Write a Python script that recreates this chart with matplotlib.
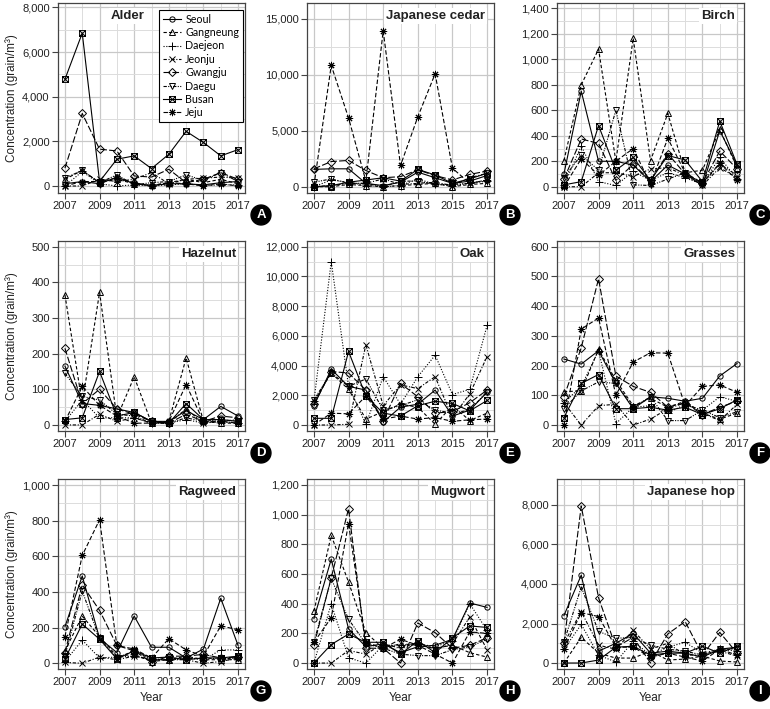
import numpy as np
import matplotlib.pyplot as plt
from matplotlib.path import Path
from matplotlib.ticker import MultipleLocator, FixedLocator, FuncFormatter

plt.rcParams['font.family'] = ['Liberation Sans', 'DejaVu Sans']

years = list(range(2007, 2018))
cities = ['Seoul', 'Gangneung', 'Daejeon', 'Jeonju', 'Gwangju', 'Daegu', 'Busan', 'Jeju']

# rows follow the order of cities
alder = [
    [100, 200, 100, 400, 100, 20, 100, 100, 50, 150, 200],
    [300, 700, 150, 300, 100, 30, 150, 300, 150, 300, 100],
    [0, 650, 100, 0, 50, 0, 50, 100, 30, 50, 50],
    [0, 0, 300, 200, 300, 600, 100, 300, 350, 400, 350],
    [800, 3250, 1650, 1570, 450, 400, 750, 150, 300, 600, 300],
    [350, 700, 150, 500, 50, 150, 200, 500, 250, 600, 200],
    [4780, 6850, 200, 1200, 1350, 780, 1420, 2450, 1950, 1350, 1630],
    [0, 200, 200, 350, 150, 0, 150, 100, 0, 100, 0],
]
cedar = [
    [1550, 1600, 1600, 300, 100, 400, 1300, 800, 300, 500, 1000],
    [0, 0, 200, 100, 0, 100, 200, 300, 0, 200, 300],
    [0, 600, 400, 100, 0, 100, 700, 200, 100, 300, 500],
    [0, 100, 300, 300, 700, 200, 300, 400, 100, 800, 1200],
    [1600, 2250, 2350, 1450, 800, 900, 1500, 1000, 600, 1100, 1400],
    [400, 700, 300, 300, 0, 500, 500, 200, 200, 300, 600],
    [0, 100, 400, 600, 800, 500, 1550, 1050, 300, 700, 1200],
    [100, 10850, 6150, 500, 13950, 1900, 6250, 10100, 1650, 300, 600],
]
birch = [
    [100, 750, 200, 200, 170, 40, 170, 100, 10, 440, 170],
    [205, 800, 1080, 200, 1165, 205, 575, 110, 130, 450, 150],
    [10, 320, 40, 10, 120, 50, 110, 70, 20, 230, 60],
    [0, 0, 110, 110, 80, 140, 150, 90, 10, 150, 70],
    [60, 375, 340, 50, 175, 50, 260, 100, 30, 280, 140],
    [70, 250, 130, 600, 15, 10, 60, 110, 20, 180, 90],
    [15, 40, 480, 130, 230, 50, 245, 210, 40, 515, 175],
    [0, 220, 90, 200, 300, 20, 380, 110, 30, 185, 50],
]
hazelnut = [
    [165, 60, 55, 45, 35, 10, 10, 40, 15, 52, 25],
    [365, 60, 372, 20, 135, 5, 10, 188, 10, 5, 5],
    [10, 70, 20, 20, 20, 5, 5, 15, 5, 10, 5],
    [0, 0, 30, 10, 20, 5, 5, 45, 5, 10, 15],
    [215, 60, 100, 45, 30, 10, 5, 30, 10, 25, 20],
    [145, 80, 70, 30, 25, 5, 5, 20, 10, 15, 10],
    [15, 20, 150, 25, 35, 10, 5, 60, 15, 15, 10],
    [10, 108, 55, 25, 5, 5, 10, 113, 10, 10, 5],
]
oak = [
    [1300, 3750, 2600, 2350, 200, 1200, 1400, 2350, 600, 1000, 2200],
    [1600, 3500, 2400, 400, 900, 1400, 1200, 50, 1300, 300, 800],
    [1600, 11000, 2600, 50, 3250, 1400, 3250, 4700, 2050, 2400, 6700],
    [0, 0, 50, 5400, 1300, 2700, 2450, 3250, 500, 2100, 4600],
    [1400, 3600, 3500, 2350, 300, 2800, 1900, 800, 900, 1500, 2350],
    [1700, 3500, 2600, 3100, 1000, 1300, 1700, 1000, 800, 1000, 2250],
    [450, 450, 4950, 1950, 800, 600, 1300, 1600, 1450, 950, 1650],
    [0, 800, 750, 1950, 400, 600, 400, 500, 250, 350, 400],
]
grasses = [
    [222, 205, 250, 140, 55, 95, 90, 80, 90, 165, 207],
    [112, 115, 255, 150, 65, 90, 60, 80, 40, 20, 40],
    [75, 130, 250, 5, 60, 65, 40, 70, 50, 95, 80],
    [75, 0, 65, 70, 0, 20, 55, 75, 40, 15, 70],
    [95, 260, 492, 165, 130, 110, 60, 75, 35, 60, 80],
    [55, 115, 145, 140, 60, 95, 15, 15, 50, 25, 45],
    [25, 140, 170, 55, 55, 60, 50, 60, 35, 55, 85],
    [0, 323, 360, 100, 212, 243, 242, 65, 130, 135, 110],
]
ragweed = [
    [205, 490, 140, 60, 265, 90, 90, 30, 80, 365, 100],
    [70, 265, 150, 40, 50, 10, 20, 40, 20, 20, 20],
    [10, 130, 30, 35, 40, 25, 20, 30, 20, 75, 75],
    [5, 0, 35, 20, 40, 20, 20, 20, 0, 10, 30],
    [60, 440, 297, 100, 70, 5, 40, 40, 50, 30, 35],
    [40, 405, 140, 30, 70, 20, 20, 25, 30, 25, 30],
    [25, 220, 135, 25, 70, 30, 35, 20, 30, 30, 40],
    [150, 605, 805, 100, 80, 30, 138, 75, 40, 210, 188],
]
mugwort = [
    [300, 700, 230, 110, 130, 70, 110, 120, 160, 405, 375],
    [350, 860, 545, 205, 100, 130, 120, 100, 120, 70, 40],
    [0, 400, 35, 0, 120, 120, 130, 110, 150, 400, 220],
    [0, 0, 85, 60, 130, 100, 140, 90, 130, 310, 90],
    [120, 575, 1040, 100, 100, 0, 270, 205, 100, 120, 170],
    [140, 570, 295, 130, 100, 60, 50, 50, 90, 110, 160],
    [0, 125, 195, 140, 140, 60, 150, 70, 170, 250, 240],
    [140, 305, 940, 140, 100, 160, 120, 60, 0, 210, 200],
]
hop = [
    [2400, 4450, 600, 1000, 1500, 500, 600, 500, 300, 700, 800],
    [0, 1300, 500, 250, 250, 600, 150, 200, 350, 100, 50],
    [700, 1950, 400, 50, 1100, 400, 800, 1050, 500, 700, 600],
    [1000, 2600, 900, 700, 1650, 700, 1000, 400, 400, 600, 350],
    [1000, 7950, 3300, 800, 1300, 0, 1470, 2100, 400, 1550, 500],
    [1050, 3850, 1600, 1250, 1300, 900, 700, 600, 400, 700, 700],
    [0, 0, 150, 800, 850, 400, 500, 500, 850, 500, 850],
    [700, 2550, 2350, 800, 800, 300, 500, 300, 100, 700, 400],
]

titles = ['Alder', 'Japanese cedar', 'Birch', 'Hazelnut', 'Oak', 'Grasses',
          'Ragweed', 'Mugwort', 'Japanese hop']
letters = list('ABCDEFGHI')
datasets = [alder, cedar, birch, hazelnut, oak, grasses, ragweed, mugwort, hop]
tick_steps = [2000, 5000, 200, 100, 2000, 100, 200, 200, 2000]
ylims = [(-314, 8200), (-563, 16430), (-49, 1442), (-17, 516), (-404, 12384),
         (-20, 619), (-32, 1034), (-40, 1240), (-303, 9314)]

# square with a cross inside (like R pch 7)
box_x = Path([(-1, -1), (1, -1), (1, 1), (-1, 1), (-1, -1), (-1, -1), (1, 1), (-1, 1), (1, -1)],
             [Path.MOVETO, Path.LINETO, Path.LINETO, Path.LINETO, Path.CLOSEPOLY,
              Path.MOVETO, Path.LINETO, Path.MOVETO, Path.LINETO])

styles = [
    dict(ls='-', marker='o', ms=3.8),
    dict(ls=(0, (3, 2)), marker='^', ms=4.4),
    dict(ls=(0, (1, 1.5)), marker='+', ms=5.2),
    dict(ls=(0, (3, 1.5, 1, 1.5)), marker='x', ms=4.2),
    dict(ls=(0, (6, 2)), marker='D', ms=3.8),
    dict(ls=(0, (3, 1.2, 1, 1.2, 1, 1.2)), marker='v', ms=4.4),
    dict(ls='-', marker=box_x, ms=4.2),
    dict(ls=(0, (4, 2)), marker=(8, 2, 0), ms=5.2),
]

W, H = 770, 709
fig = plt.figure(figsize=(W / 100, H / 100), dpi=100)
col_left = [58, 307, 557]
row_top = [3, 241, 479]
aw, ah = 187, 190

for i in range(9):
    r, c = divmod(i, 3)
    l, t = col_left[c], row_top[r]
    ax = fig.add_axes([l / W, 1 - (t + ah) / H, aw / W, ah / H])
    vals = datasets[i]
    for k, city in enumerate(cities):
        st = styles[k]
        ax.plot(years, vals[k], color='black', lw=0.8, ls=st['ls'],
                marker=st['marker'], ms=st['ms'], mfc='none', mec='black',
                mew=0.7, label=city, zorder=3)
    ax.set_xlim(2006.6, 2017.4)
    ax.set_ylim(*ylims[i])
    ax.xaxis.set_major_locator(FixedLocator(years[::2]))
    ax.xaxis.set_minor_locator(FixedLocator(years[1::2]))
    ax.yaxis.set_major_locator(MultipleLocator(tick_steps[i]))
    ax.yaxis.set_minor_locator(MultipleLocator(tick_steps[i] / 2))
    ax.yaxis.set_major_formatter(FuncFormatter(lambda v, p: f'{v:,.0f}'))
    ax.grid(which='major', color='#c8c8c8', lw=0.9)
    ax.grid(which='minor', color='#dcdcdc', lw=0.7)
    ax.set_axisbelow(True)
    ax.tick_params(which='major', length=4, width=0.8, color='#444444',
                   labelsize=8, labelcolor='#222222', pad=2)
    ax.tick_params(which='minor', length=0)
    for s in ax.spines.values():
        s.set_color('#444444')
        s.set_linewidth(0.9)

    if i == 0:
        tx = (145 - l) / aw
    else:
        tx = 1 - 9 / aw
    ax.text(tx, 1 - 13 / ah, titles[i], transform=ax.transAxes, ha='right', va='center',
            fontsize=9.5, fontweight='bold', color='#222222',
            bbox=dict(fc='white', ec='none', pad=1.5), zorder=5)

    if i == 0:
        leg = ax.legend(loc='upper right', bbox_to_anchor=(1 - 2 / aw, 1 - 7 / ah),
                        borderaxespad=0, handlelength=1.7,
                        handletextpad=0.4, labelspacing=0.22, borderpad=0.35,
                        fancybox=False, framealpha=1, edgecolor='black',
                        prop={'family': ['Lato', 'DejaVu Sans'], 'size': 7.7})
        leg.get_frame().set_linewidth(0.8)

    # panel letter badge
    fig.text((l + aw + 16) / W, 1 - (t + ah + 22) / H, letters[i], ha='center', va='center',
             color='white', fontsize=9.5, fontweight='bold',
             bbox=dict(boxstyle='circle,pad=0.3', fc='black', ec='black'))

    if c == 0:
        fig.text(12 / W, 1 - (t + ah / 2) / H, 'Concentration (grain/m\u00b3)',
                 rotation=90, ha='center', va='center', fontsize=8.5, color='#222222')
    if r == 2:
        fig.text((l + aw / 2) / W, 1 - 698 / H, 'Year', ha='center', va='center',
                 fontsize=8.5, color='#222222')

fig.savefig('out.png', dpi=100)
